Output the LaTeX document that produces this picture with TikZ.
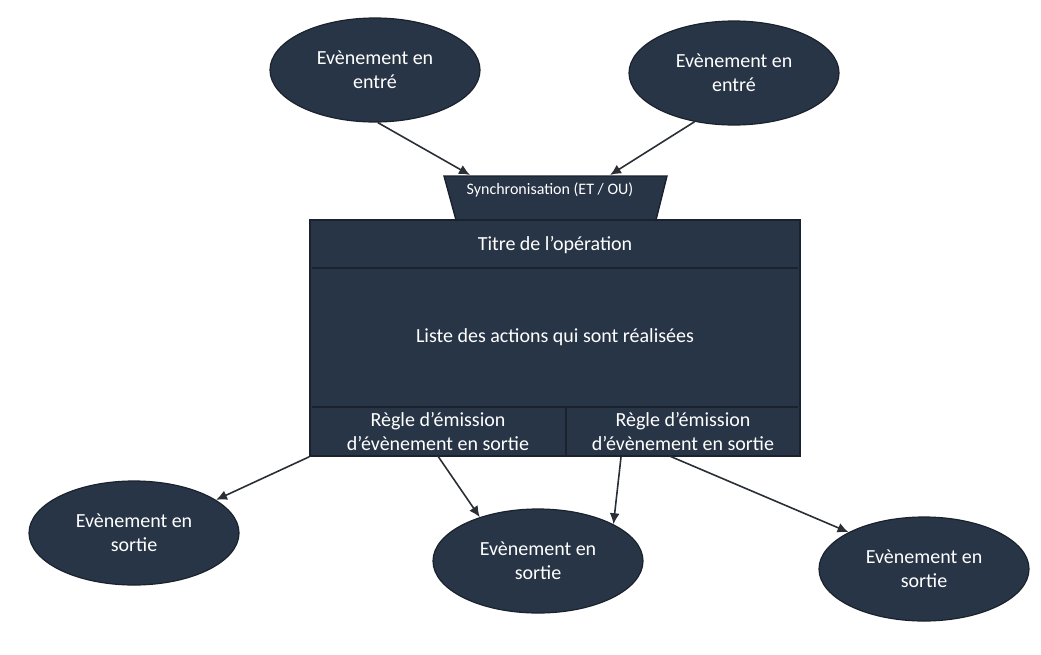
\documentclass[tikz,border=0pt]{standalone}
\usepackage{fontspec}
\setmainfont{Carlito}
\usetikzlibrary{shapes.geometric,arrows.meta,calc}
\definecolor{nodefill}{HTML}{283546}
\definecolor{nodeedge}{HTML}{1A222D}
\definecolor{arrowcol}{HTML}{2A2F36}
\begin{document}
\begin{tikzpicture}[x=1pt,y=-1pt,
 ev/.style={ellipse,fill=nodefill,draw=nodeedge,line width=1.2pt,minimum width=210pt,minimum height=104pt,inner sep=0pt,text=white,align=center,font=\fontsize{20}{24}\selectfont},
 cellbox/.style={rectangle,fill=nodefill,draw=nodeedge,line width=1.6pt,inner sep=0pt},
 lbl/.style={text=white,align=center,font=\fontsize{20}{24}\selectfont,inner sep=0pt},
 divider/.style={draw=nodeedge,line width=1.6pt},
 conn/.style={draw=arrowcol,line width=1.6pt,-{Latex[length=11pt,width=10pt]}}]
\useasboundingbox (0,0) rectangle (1041,654);
% ellipses
\node[ev] (in1) at (375,70) {Evènement en\\entré};
\node[ev] (in2) at (734,73) {Evènement en\\entré};
\node[ev] (out1) at (134,533) {Evènement en\\sortie};
\node[ev] (out2) at (538,561) {Evènement en\\sortie};
\node[ev] (out3) at (924,569) {Evènement en\\sortie};
% synchronisation trapezoid
\filldraw[fill=nodefill,draw=nodeedge,line width=1.4pt] (444,176) -- (667,176) -- (656,220) -- (456,220) -- cycle;
\node[text=white,font=\fontsize{16}{19}\selectfont,inner sep=0pt] (sync) at (550,190) {Synchronisation (ET / OU)};
% main box
\node[cellbox,minimum width=490pt,minimum height=236pt] (box) at (555,338) {};
\draw[divider] (312,268) -- (798,268);
\draw[divider] (312,407) -- (798,407);
\draw[divider] (566,407) -- (566,455);
\node[lbl] (title) at (555,245) {Titre de l’opération};
\node[lbl] (actions) at (555,337) {Liste des actions qui sont réalisées};
\node[lbl,minimum width=256pt,minimum height=49pt] (rule1) at (438,431.5) {Règle d’émission\\d’évènement en sortie};
\node[lbl,minimum width=234pt,minimum height=49pt] (rule2) at (683,431.5) {Règle d’émission\\d’évènement en sortie};
% connector end points
\coordinate (s1) at (470,175);
\coordinate (s2) at (610,175);
\coordinate (r2a) at ($(rule2.south)+(-62,1)$);
\coordinate (r2b) at ($(rule2.south)+(-13,0)$);
% connectors
\draw[conn] (in1.273) -- (s1);
\draw[conn] (in2.231) -- (s2);
\draw[conn] (box.south west) -- (out1.22);
\draw[conn] (rule1.south) -- (out2.143);
\draw[conn] (r2a) -- (out2.26);
\draw[conn] (r2b) -- (out3.154);
\end{tikzpicture}
\end{document}
